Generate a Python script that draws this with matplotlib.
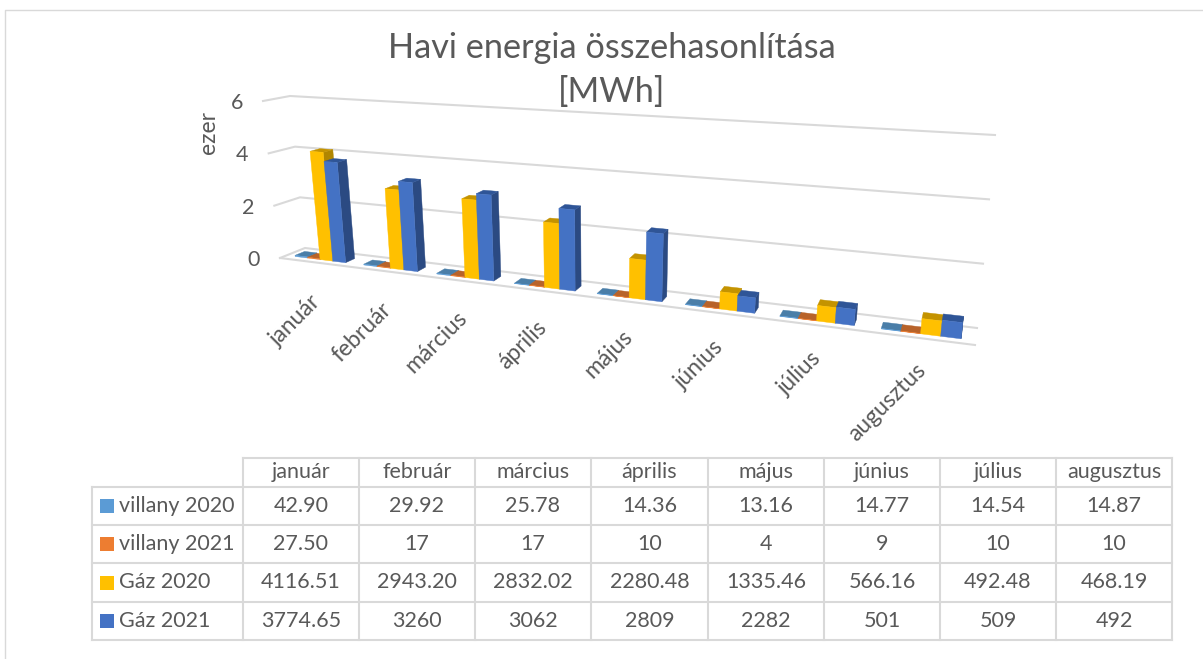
import matplotlib
matplotlib.use("Agg")
import matplotlib.pyplot as plt

plt.rcParams['font.family'] = ['Lato', 'DejaVu Sans']

# table data, kept as the printed strings
months = ["január", "február", "március", "április", "május", "június", "július", "augusztus"]
series_names = ["villany 2020", "villany 2021", "Gáz 2020", "Gáz 2021"]
villany_2020 = ["42.90", "29.92", "25.78", "14.36", "13.16", "14.77", "14.54", "14.87"]
villany_2021 = ["27.50", "17", "17", "10", "4", "9", "10", "10"]
gaz_2020 = ["4116.51", "2943.20", "2832.02", "2280.48", "1335.46", "566.16", "492.48", "468.19"]
gaz_2021 = ["3774.65", "3260", "3062", "2809", "2282", "501", "509", "492"]
axis_ticks = [0, 2, 4, 6]

rows = [villany_2020, villany_2021, gaz_2020, gaz_2021]
face_colors = ["#5B9BD5", "#ED7D31", "#FFC000", "#4472C4"]
top_colors = ["#4A7EA8", "#B8632A", "#C49300", "#2F5597"]
side_colors = ["#3F6C92", "#A55622", "#B08600", "#2B4A82"]
text_color = "#595959"
grid_color = "#D9D9D9"

# corners of the 3D box in pixels: (side, depth, top)
corners = {
    (0, 0, 0): (280, 258), (0, 0, 1): (263, 101),
    (1, 0, 0): (975, 345), (1, 0, 1): (997, 145),
    (0, 1, 0): (305, 248), (0, 1, 1): (290, 96),
    (1, 1, 0): (977, 328), (1, 1, 1): (995, 135),
}
persp = 1.3


def lerp(a, b, f):
    return a + (b - a) * f


def project(t, d, v):
    # t = 0..1 along the categories, d = 0..1 depth, v = value in thousands
    s = t / (t + persp * (1 - t))
    h = v / 6
    out = []
    for k in range(2):
        front = lerp(lerp(corners[0, 0, 0][k], corners[1, 0, 0][k], s),
                     lerp(corners[0, 0, 1][k], corners[1, 0, 1][k], s), h)
        back = lerp(lerp(corners[0, 1, 0][k], corners[1, 1, 0][k], s),
                    lerp(corners[0, 1, 1][k], corners[1, 1, 1][k], s), h)
        out.append(lerp(front, back, d))
    return out


fig = plt.figure(figsize=(12.03, 6.59), dpi=100)
ax = fig.add_axes([0, 0, 1, 1])
ax.set_xlim(0, 1203)
ax.set_ylim(659, 0)
ax.axis('off')

# chart border
ax.plot([5, 5, 1203], [659, 10, 10], color="#D9D9D9", lw=1)

# gridlines on back and side walls
for v in axis_ticks:
    p0 = project(0, 0, v)
    p1 = project(0, 1, v)
    p2 = project(1, 1, v)
    ax.plot([p0[0], p1[0], p2[0]], [p0[1], p1[1], p2[1]], color=grid_color, lw=1.5, zorder=1)
    ax.text(p0[0] - 20, p0[1] + 2, str(v), ha='right', va='center', fontsize=15.5, color=text_color)
p0 = project(0, 0, 0)
p1 = project(1, 0, 0)
ax.plot([p0[0], p1[0]], [p0[1], p1[1]], color=grid_color, lw=1.5, zorder=1)

ax.text(208, 132, "ezer", rotation=90, ha='center', va='center', fontsize=16.5, color=text_color)
ax.text(612, 48, "Havi energia összehasonlítása", ha='center', va='center',
        fontsize=24.7, color=text_color, zorder=1)
ax.text(612, 92, "[MWh]", ha='center', va='center', fontsize=24.7, color=text_color, zorder=1)

# bars
n_cat = len(months)
cat_w = 1 / n_cat
bar_w = 0.185 * cat_w
d0, d1 = 0.26, 0.65
z = 2
for i in range(n_cat):
    start = (i + 0.5) * cat_w - 2 * bar_w
    for j, row in enumerate(rows):
        val = float(row[i]) / 1000
        a = start + j * bar_w
        b = a + bar_w
        side = [project(b, d0, 0), project(b, d1, 0), project(b, d1, val), project(b, d0, val)]
        top = [project(a, d0, val), project(b, d0, val), project(b, d1, val), project(a, d1, val)]
        front = [project(a, d0, 0), project(b, d0, 0), project(b, d0, val), project(a, d0, val)]
        for pts, col in [(side, side_colors[j]), (top, top_colors[j]), (front, face_colors[j])]:
            ax.fill([p[0] for p in pts], [p[1] for p in pts], color=col, lw=0.3, zorder=z)
        z += 1

# rotated month labels under the floor
for i, name in enumerate(months):
    p = project((i + 0.5) * cat_w, 0, 0)
    ax.text(p[0] - 4, p[1] + 29 - 1.1 * i, name, rotation=45, rotation_mode='anchor',
            ha='right', va='top', fontsize=16.5, color=text_color)

# data table
col_x = [92, 243, 359, 475, 591, 708, 824, 940, 1056, 1172]
row_y = [458, 487, 525, 563, 602, 640]
for x in col_x:
    top_y = row_y[1] if x == col_x[0] else row_y[0]
    ax.plot([x, x], [top_y, row_y[-1]], color=grid_color, lw=1.5)
for k, y in enumerate(row_y):
    left = col_x[1] if k == 0 else col_x[0]
    ax.plot([left, col_x[-1]], [y, y], color=grid_color, lw=1.5)

for c, name in enumerate(months):
    ax.text((col_x[c + 1] + col_x[c + 2]) / 2, (row_y[0] + row_y[1]) / 2, name,
            ha='center', va='center', fontsize=15.5, color=text_color)
for r, name in enumerate(series_names):
    yc = (row_y[r + 1] + row_y[r + 2]) / 2
    ax.fill([100, 114, 114, 100], [yc - 7, yc - 7, yc + 7, yc + 7], color=face_colors[r], lw=0)
    ax.text(119, yc, name, ha='left', va='center', fontsize=15.5, color=text_color)
    for c, value in enumerate(rows[r]):
        ax.text((col_x[c + 1] + col_x[c + 2]) / 2, yc, value, ha='center', va='center',
                fontsize=15.5, color=text_color)

fig.savefig("out.png", dpi=100)
